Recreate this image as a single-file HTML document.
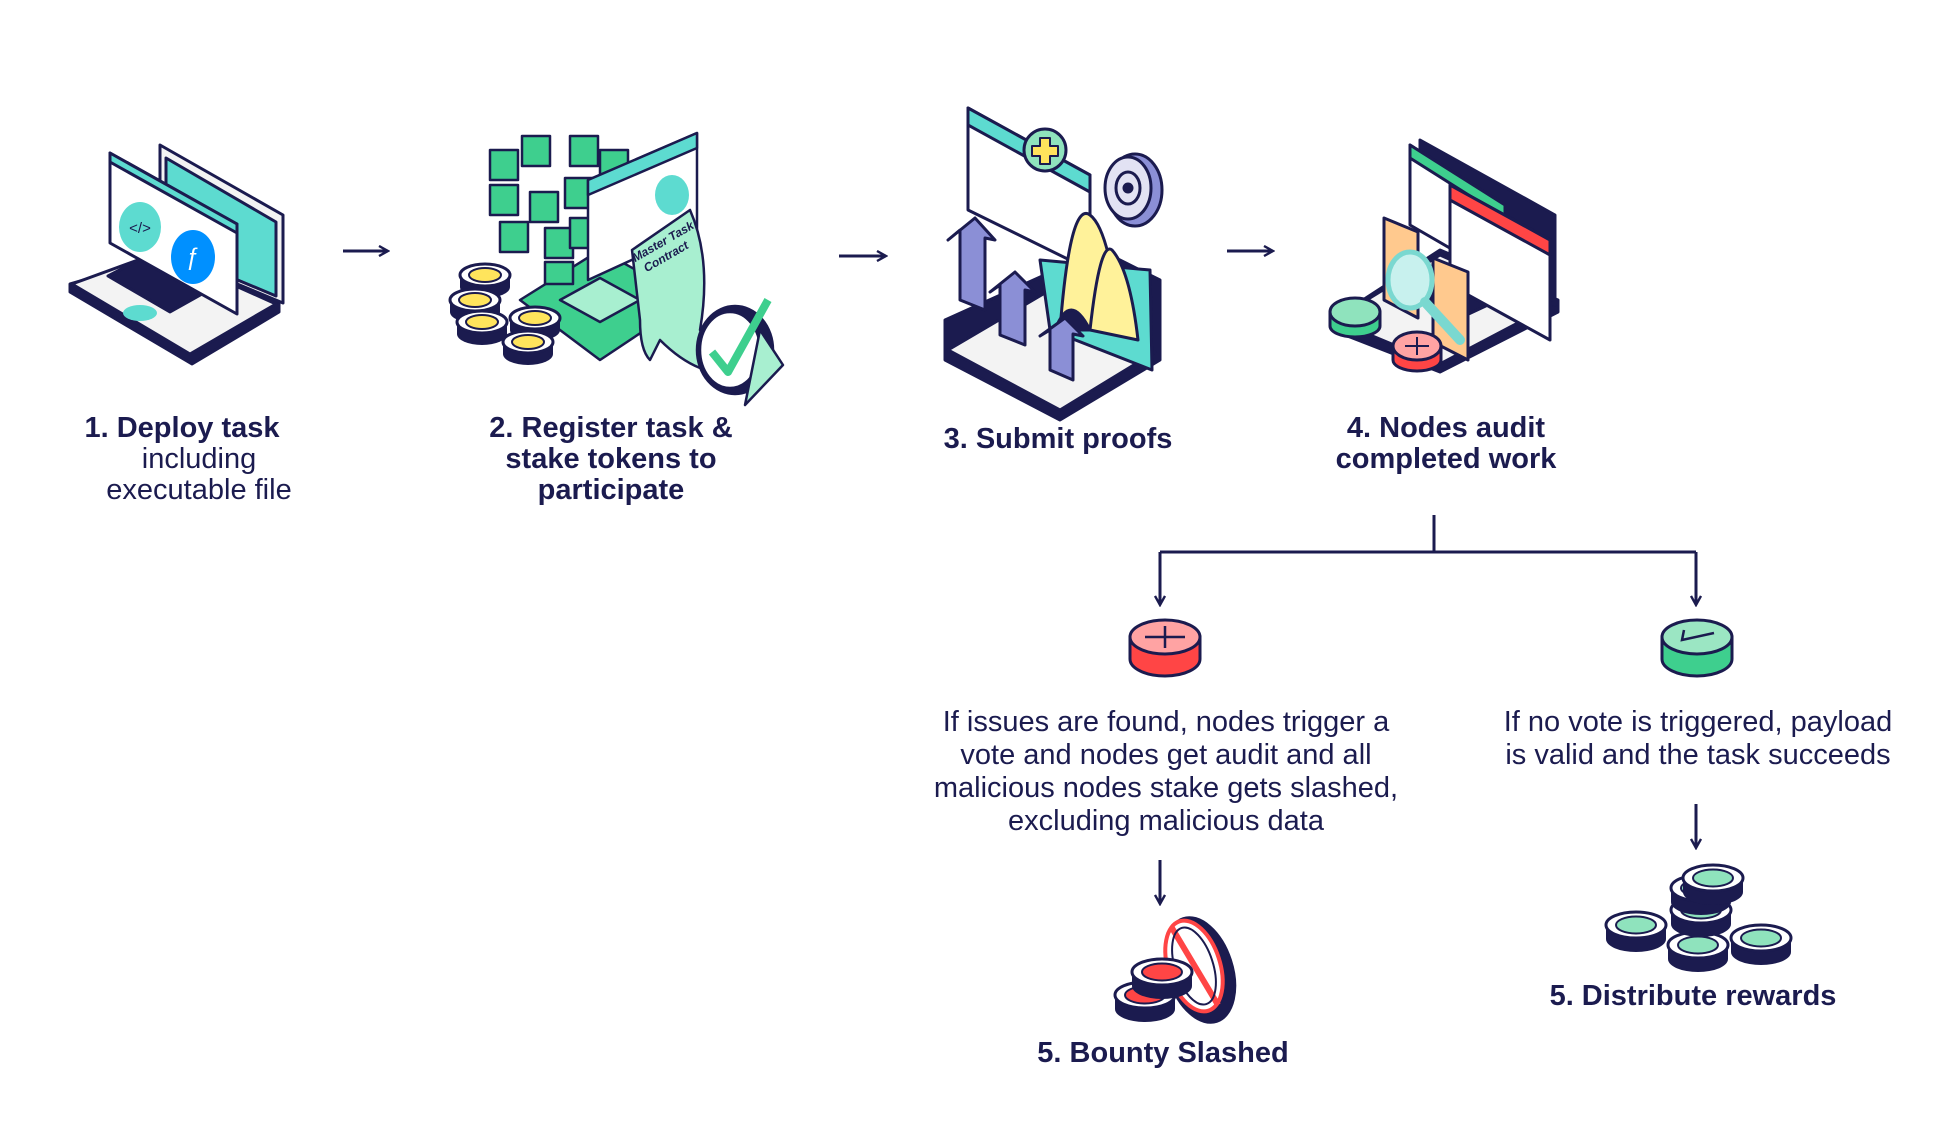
<!DOCTYPE html>
<html><head><meta charset="utf-8"><style>
html,body{margin:0;padding:0;background:#fff;}
svg{display:block}
text{font-family:"Liberation Sans",sans-serif;fill:#1b1b4f}
.b{font-weight:bold;font-size:29px}
.r{font-size:29px}
</style></head><body>
<svg width="1945" height="1122" viewBox="0 0 1945 1122" xmlns="http://www.w3.org/2000/svg">
<defs>
<g id="coinY">
 <path d="M-25 0 L-25 12 A25 11 0 0 0 25 12 L25 0 Z" fill="#1b1b4f"/>
 <ellipse cx="0" cy="0" rx="25" ry="11" fill="#fff" stroke="#1b1b4f" stroke-width="3"/>
 <ellipse cx="0" cy="0" rx="16" ry="7" fill="#ffe45c" stroke="#1b1b4f" stroke-width="2"/>
</g>
<g id="coinG">
 <path d="M-30 0 L-30 14 A30 13 0 0 0 30 14 L30 0 Z" fill="#1b1b4f"/>
 <ellipse cx="0" cy="0" rx="30" ry="13" fill="#fff" stroke="#1b1b4f" stroke-width="3"/>
 <ellipse cx="0" cy="0" rx="20" ry="8.5" fill="#8fe3bd" stroke="#1b1b4f" stroke-width="2"/>
</g>
<g id="coinR">
 <path d="M-30 0 L-30 14 A30 13 0 0 0 30 14 L30 0 Z" fill="#1b1b4f"/>
 <ellipse cx="0" cy="0" rx="30" ry="13" fill="#fff" stroke="#1b1b4f" stroke-width="3"/>
 <ellipse cx="0" cy="0" rx="20" ry="8.5" fill="#ff4545" stroke="#1b1b4f" stroke-width="2"/>
</g>
<marker id="ah" viewBox="0 0 12 12" refX="10" refY="6" markerWidth="12" markerHeight="12" markerUnits="userSpaceOnUse" orient="auto">
 <path d="M1 1 L10 6 L1 11" fill="none" stroke="#1b1b4f" stroke-width="2.4"/>
</marker>
</defs>

<!-- Illustration 1: laptop -->
<g stroke="#1b1b4f" stroke-width="3" stroke-linejoin="round">
 <polygon points="70,292 192,364 279,312 279,300 160,258 70,284" fill="#1b1b4f"/>
 <polygon points="72,284 190,354 276,304 160,252" fill="#f3f3f3"/>
 <polygon points="108,276 170,312 220,284 158,250" fill="#1b1b4f"/>
 <ellipse cx="140" cy="313" rx="17" ry="8" fill="#5ddbd0" stroke="none"/>
 <polygon points="160,145 283,215 283,303 160,252" fill="#f3f3f3"/>
 <polygon points="166,158 276,222 276,296 166,250" fill="#5ddbd0"/>
 <polygon points="110,153 237,224 237,314 110,243" fill="#fff"/>
 <polygon points="110,153 237,224 237,233 110,162" fill="#5ddbd0"/>
 <ellipse cx="140" cy="227" rx="21" ry="25" fill="#5ddbd0" stroke="none"/>
 <ellipse cx="193" cy="257" rx="22" ry="27" fill="#0090ff" stroke="none"/>
</g>
<text x="140" y="233" font-size="15" text-anchor="middle" style="fill:#1b1b4f">&lt;/&gt;</text>
<text x="193" y="265" font-size="24" text-anchor="middle" style="fill:#fff">ƒ</text>

<!-- Illustration 2 -->
<g stroke="#1b1b4f" stroke-width="2.5" stroke-linejoin="round">
 <polygon points="520,300 600,250 690,300 600,360" fill="#3ecf8e"/>
 <polygon points="560,300 600,278 640,300 600,322" fill="#a8efd0"/>
 <g fill="#3ecf8e">
  <rect x="490" y="150" width="28" height="30"/><rect x="522" y="136" width="28" height="30"/><rect x="570" y="136" width="28" height="30"/><rect x="600" y="150" width="28" height="30"/>
  <rect x="490" y="185" width="28" height="30"/><rect x="530" y="192" width="28" height="30"/><rect x="565" y="178" width="28" height="30"/>
  <rect x="500" y="222" width="28" height="30"/><rect x="545" y="228" width="28" height="30"/><rect x="570" y="218" width="28" height="30"/>
  <rect x="545" y="262" width="28" height="22"/>
 </g>
 <polygon points="588,180 697,133 697,230 588,280" fill="#fff"/>
 <polygon points="588,180 697,133 697,148 588,195" fill="#5ddbd0"/>
 <ellipse cx="672" cy="195" rx="17" ry="20" fill="#5ddbd0" stroke="none"/>
 <path d="M632,250 L690,210 Q712,260 700,330 Q715,360 700,368 Q680,360 660,340 L650,360 Q640,350 640,320 Z" fill="#a8efd0"/>
 <ellipse cx="735" cy="350" rx="38" ry="44" fill="#1b1b4f"/>
 <ellipse cx="730" cy="350" rx="30" ry="38" fill="#fff"/>
 <path d="M712,352 L728,372 L768,300" fill="none" stroke="#3ecf8e" stroke-width="8"/>
 <polygon points="760,330 783,365 745,405" fill="#a8efd0"/>
</g>
<text x="665" y="245" font-size="12" font-style="italic" font-weight="bold" transform="rotate(-30 665 245)" text-anchor="middle">Master Task</text>
<text x="668" y="260" font-size="12" font-style="italic" font-weight="bold" transform="rotate(-30 668 260)" text-anchor="middle">Contract</text>
<use href="#coinY" x="485" y="275"/>
<use href="#coinY" x="475" y="300"/>
<use href="#coinY" x="482" y="322"/>
<use href="#coinY" x="535" y="318"/>
<use href="#coinY" x="528" y="342"/>

<!-- Illustration 3 -->
<g stroke="#1b1b4f" stroke-width="3" stroke-linejoin="round">
 <polygon points="945,360 1060,420 1160,360 1160,280 1100,250 945,320" fill="#1b1b4f"/>
 <polygon points="948,350 1060,410 1155,352 1050,290" fill="#f3f3f3"/>
 <polygon points="1040,260 1150,270 1152,370 1050,330" fill="#5ddbd0"/>
 <polygon points="968,108 1090,175 1090,270 968,210" fill="#fff"/>
 <polygon points="968,108 1090,175 1090,192 968,125" fill="#5ddbd0"/>
 <circle cx="1045" cy="150" r="21" fill="#8fe3bd"/>
 <path d="M1040 138h10v8h8v10h-8v8h-10v-8h-8v-10h8z" fill="#ffe45c" stroke-width="2"/>
 <ellipse cx="1135" cy="190" rx="27" ry="36" fill="#8b8fd6"/>
 <ellipse cx="1128" cy="188" rx="23" ry="31" fill="#e2e2f3"/>
 <ellipse cx="1128" cy="188" rx="12" ry="16" fill="none"/>
 <circle cx="1128" cy="188" r="4" fill="#1b1b4f"/>
 <path d="M1060,330 Q1070,200 1090,215 Q1110,230 1120,330 Z" fill="#fff29a"/>
 <path d="M1090,330 Q1100,240 1112,250 Q1130,270 1138,340 Z" fill="#fff29a"/>
 <path d="M1055,330 Q1070,290 1090,330" fill="#1b1b4f"/>
 <polygon points="960,300 960,230 948,240 975,218 995,240 985,238 985,310" fill="#8b8fd6"/>
 <polygon points="1000,335 1000,285 990,292 1015,272 1035,292 1025,290 1025,345" fill="#8b8fd6"/>
 <polygon points="1050,370 1050,330 1040,336 1065,318 1083,336 1073,334 1073,380" fill="#8b8fd6"/>
</g>

<!-- Illustration 4 -->
<g stroke="#1b1b4f" stroke-width="3" stroke-linejoin="round">
 <polygon points="1332,330 1440,372 1558,312 1558,300 1440,250 1332,320" fill="#1b1b4f"/>
 <polygon points="1334,320 1440,364 1552,305 1440,255" fill="#f3f3f3"/>
 <polygon points="1410,300 1460,318 1520,290 1470,265" fill="#1b1b4f"/>
 <polygon points="1420,140 1555,215 1555,305 1420,230" fill="#1b1b4f"/>
 <polygon points="1410,145 1505,205 1505,280 1410,225" fill="#fff"/>
 <polygon points="1410,145 1505,205 1505,218 1410,158" fill="#3ecf8e"/>
 <polygon points="1450,185 1550,240 1550,340 1450,285" fill="#fff"/>
 <polygon points="1450,185 1550,240 1550,255 1450,200" fill="#ff4545"/>
 <polygon points="1384,218 1418,232 1418,318 1384,300" fill="#ffc98e"/>
 <polygon points="1433,258 1468,272 1468,360 1433,342" fill="#ffc98e"/>
 <ellipse cx="1410" cy="280" rx="22" ry="28" fill="#c8f1ee" stroke="#7ad8d0" stroke-width="5"/>
 <path d="M1425,302 L1460,340" stroke="#7ad8d0" stroke-width="10" stroke-linecap="round"/>
 <path d="M1330,312 v14 a25 11 0 0 0 50 0 v-14 z" fill="#3ecf8e"/>
 <ellipse cx="1355" cy="312" rx="25" ry="14" fill="#8fe3bd"/>
 <path d="M1393,346 v14 a24 11 0 0 0 48 0 v-14 z" fill="#ff4545"/>
 <ellipse cx="1417" cy="346" rx="24" ry="14" fill="#ffa3a3"/>
 <path d="M1405 346h24M1417 337v18" stroke-width="2"/>
</g>

<!-- arrows between steps -->
<g stroke="#1b1b4f" stroke-width="3" fill="none">
 <line x1="343" y1="251" x2="388" y2="251" marker-end="url(#ah)"/>
 <line x1="839" y1="256" x2="886" y2="256" marker-end="url(#ah)"/>
 <line x1="1227" y1="251" x2="1273" y2="251" marker-end="url(#ah)"/>
 <path d="M1434 515 V552 M1160 552 H1696"/>
 <line x1="1160" y1="552" x2="1160" y2="605" marker-end="url(#ah)"/>
 <line x1="1696" y1="552" x2="1696" y2="605" marker-end="url(#ah)"/>
 <line x1="1160" y1="860" x2="1160" y2="904" marker-end="url(#ah)"/>
 <line x1="1696" y1="804" x2="1696" y2="848" marker-end="url(#ah)"/>
</g>

<!-- red / green discs -->
<g stroke="#1b1b4f" stroke-width="3">
 <path d="M1130,637 v22 a35 17 0 0 0 70 0 v-22 z" fill="#ff4545"/>
 <ellipse cx="1165" cy="637" rx="35" ry="17" fill="#ffa3a3"/>
 <path d="M1145 637h40M1165 626v22" stroke-width="2.5"/>
 <path d="M1662,637 v22 a35 17 0 0 0 70 0 v-22 z" fill="#3ecf8e"/>
 <ellipse cx="1697" cy="637" rx="35" ry="17" fill="#9be6c3"/>
 <path d="M1684 630 l-2 10 l32 -7" fill="none" stroke-width="2.5"/>
</g>

<!-- slashed coins -->
<g stroke="#1b1b4f" stroke-width="3">
 <ellipse cx="1200" cy="970" rx="32" ry="54" transform="rotate(-18 1200 970)" fill="#1b1b4f"/>
 <ellipse cx="1194" cy="966" rx="26" ry="47" transform="rotate(-18 1194 966)" fill="#fff" stroke="#ff4545" stroke-width="4"/>
 <line x1="1172" y1="928" x2="1218" y2="1005" stroke="#ff4545" stroke-width="6"/>
 <ellipse cx="1194" cy="966" rx="19" ry="40" transform="rotate(-18 1194 966)" fill="none" stroke-width="2"/>
</g>
<use href="#coinR" x="1145" y="995"/>
<use href="#coinR" x="1162" y="972"/>

<!-- rewards coins -->
<use href="#coinG" x="1636" y="925"/>
<use href="#coinG" x="1761" y="938"/>
<use href="#coinG" x="1698" y="945"/>
<use href="#coinG" x="1701" y="910"/>
<use href="#coinG" x="1701" y="888"/>
<use href="#coinG" x="1713" y="878"/>

<!-- labels -->
<text class="b" x="182" y="437" text-anchor="middle">1. Deploy task</text>
<text class="r" x="199" y="468" text-anchor="middle">including</text>
<text class="r" x="199" y="499" text-anchor="middle">executable file</text>

<text class="b" x="611" y="437" text-anchor="middle">2.  Register task &amp;</text>
<text class="b" x="611" y="468" text-anchor="middle">stake tokens to</text>
<text class="b" x="611" y="499" text-anchor="middle">participate</text>

<text class="b" x="1058" y="448" text-anchor="middle">3. Submit proofs</text>

<text class="b" x="1446" y="437" text-anchor="middle">4. Nodes audit</text>
<text class="b" x="1446" y="468" text-anchor="middle">completed work</text>

<text class="r" x="1166" y="731" text-anchor="middle">If issues are found, nodes trigger a</text>
<text class="r" x="1166" y="764" text-anchor="middle">vote and nodes get audit and all</text>
<text class="r" x="1166" y="797" text-anchor="middle">malicious nodes stake gets slashed,</text>
<text class="r" x="1166" y="830" text-anchor="middle">excluding malicious data</text>

<text class="r" x="1698" y="731" text-anchor="middle">If no vote is triggered, payload</text>
<text class="r" x="1698" y="764" text-anchor="middle">is valid and the task succeeds</text>

<text class="b" x="1163" y="1062" text-anchor="middle">5.  Bounty Slashed</text>
<text class="b" x="1693" y="1005" text-anchor="middle">5.  Distribute rewards</text>
</svg>
</body></html>
